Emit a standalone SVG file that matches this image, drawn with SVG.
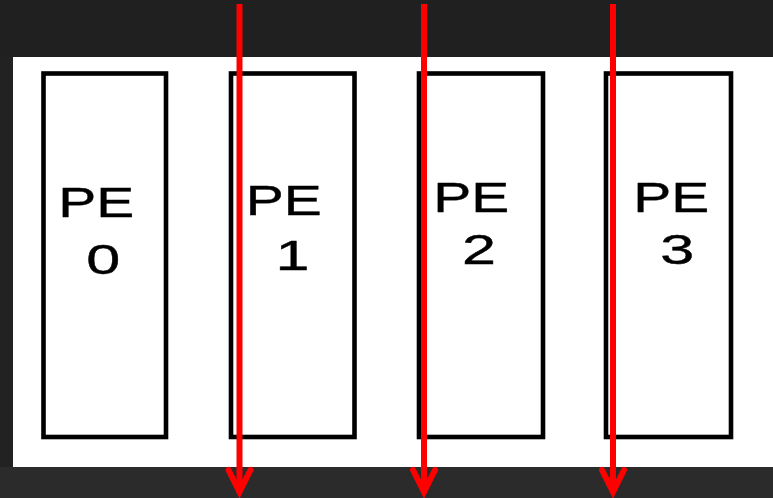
<svg xmlns="http://www.w3.org/2000/svg" width="773" height="498" viewBox="0 0 773 498">
<style>
.box{fill:#fff;stroke:#000;stroke-width:4.6}
.lbl{font-family:"Liberation Sans",Arial,sans-serif;font-size:43px;fill:#000;stroke:#000;stroke-width:0.4;text-anchor:middle}
.wire{stroke:#f00;stroke-width:6;fill:none}
.head{stroke:#f00;stroke-width:6;fill:none;stroke-linejoin:miter;stroke-linecap:round}
</style>
<rect x="0" y="0" width="773" height="498" fill="#222"/>
<rect x="0" y="0" width="773" height="57" fill="#202020"/>
<rect x="0" y="467" width="773" height="31" fill="#2b2b2b"/>
<rect x="13" y="57" width="760" height="410" fill="#fff"/>
<g id="pe0">
<rect class="box" x="43.5" y="73.5" width="122.5" height="363.5"/>
<text class="lbl" x="96.2" y="217" textLength="76" lengthAdjust="spacingAndGlyphs">PE</text>
<text class="lbl" x="103.3" y="273.5" textLength="34" lengthAdjust="spacingAndGlyphs">0</text>
</g>
<g id="pe1">
<rect class="box" x="231" y="73.5" width="123.5" height="363.5"/>
<text class="lbl" x="283.7" y="215" textLength="76" lengthAdjust="spacingAndGlyphs">PE</text>
<text class="lbl" x="292.5" y="270" textLength="34" lengthAdjust="spacingAndGlyphs">1</text>
</g>
<g id="pe2">
<rect class="box" x="419" y="73.5" width="124" height="363.5"/>
<text class="lbl" x="471.2" y="211.7" textLength="76" lengthAdjust="spacingAndGlyphs">PE</text>
<text class="lbl" x="479" y="264" textLength="34" lengthAdjust="spacingAndGlyphs">2</text>
</g>
<g id="pe3">
<rect class="box" x="606" y="73.5" width="125" height="363.5"/>
<text class="lbl" x="671.2" y="211.7" textLength="76" lengthAdjust="spacingAndGlyphs">PE</text>
<text class="lbl" x="677.3" y="264" textLength="34" lengthAdjust="spacingAndGlyphs">3</text>
</g>
<g id="connectors">
<line class="wire" x1="239.5" y1="4" x2="239.5" y2="490"/>
<path class="head" d="M228.5,470 L239.5,492 L250.5,470"/>
<line class="wire" x1="424" y1="4" x2="424" y2="490"/>
<path class="head" d="M413,470 L424,492 L435,470"/>
<line class="wire" x1="613" y1="4" x2="613" y2="490"/>
<path class="head" d="M602,470 L613,492 L624,470"/>
</g>
</svg>
